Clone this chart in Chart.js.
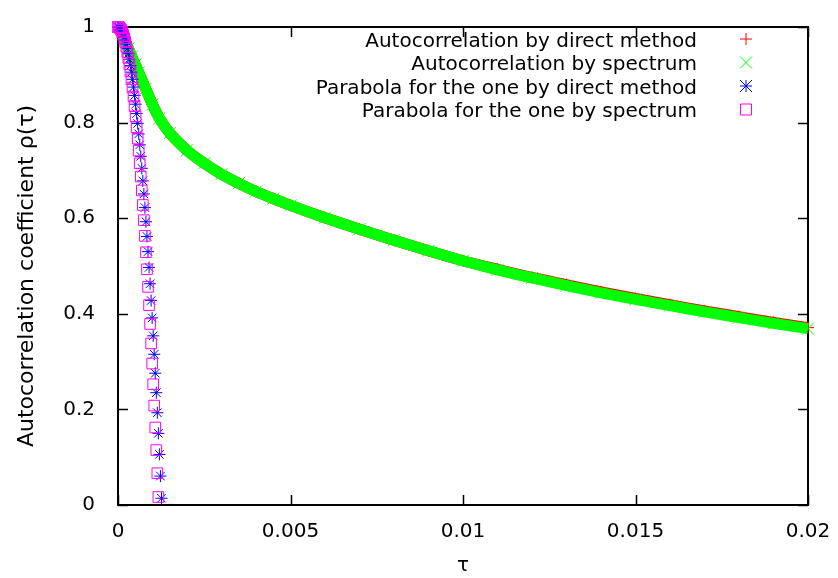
<!DOCTYPE html>
<html>
<head>
<meta charset="utf-8">
<script src="https://cdn.jsdelivr.net/npm/chart.js@4/dist/chart.umd.min.js"></script>
<style>
  html, body { margin: 0; padding: 0; background: #ffffff; }
  #wrap { width: 838px; height: 578px; }
</style>
</head>
<body>
<div id="wrap"><canvas id="c" width="838" height="578"></canvas></div>
<script>
// ---- data ----
const SERIES_NAMES = [
  "Autocorrelation by direct method",
  "Autocorrelation by spectrum",
  "Parabola for the one by direct method",
  "Parabola for the one by spectrum"
];
const AC_TAU = [0, 0.0001, 0.0002, 0.0003, 0.0004, 0.0005, 0.0006, 0.0008, 0.001, 0.0012, 0.0015,
  0.002, 0.0025, 0.003, 0.0035, 0.004, 0.0045, 0.005, 0.006, 0.007, 0.008, 0.009, 0.01,
  0.011, 0.012, 0.013, 0.014, 0.015, 0.016, 0.017, 0.018, 0.019, 0.02];
const AC_DIRECT = [1, 0.988, 0.972, 0.955, 0.938, 0.921, 0.905, 0.871, 0.838, 0.809, 0.778,
  0.742, 0.715, 0.692, 0.673, 0.656, 0.641, 0.627, 0.601, 0.577, 0.554, 0.532, 0.511,
  0.493, 0.476, 0.461, 0.446, 0.432, 0.419, 0.406, 0.394, 0.382, 0.371];
const AC_SPECTRUM = [1, 0.988, 0.972, 0.955, 0.938, 0.921, 0.905, 0.871, 0.838, 0.809, 0.778,
  0.742, 0.715, 0.692, 0.673, 0.656, 0.641, 0.627, 0.601, 0.577, 0.554, 0.532, 0.511,
  0.492, 0.475, 0.459, 0.444, 0.430, 0.417, 0.404, 0.392, 0.380, 0.369];
const PARA_TAU = [0, 0.00003, 0.00006, 0.00009, 0.00012, 0.00015, 0.00018, 0.00021, 0.00024, 0.00027,
  0.0003, 0.00033, 0.00036, 0.00039, 0.00042, 0.00045, 0.00048, 0.00051, 0.00054, 0.00057,
  0.0006, 0.00063, 0.00066, 0.00069, 0.00072, 0.00075, 0.00078, 0.00081, 0.00084, 0.00087,
  0.0009, 0.00093, 0.00096, 0.00099, 0.00102, 0.00105, 0.00108, 0.00111, 0.00114, 0.00117,
  0.0012, 0.00123, 0.00126];
const PARA_DIRECT = [1, 0.9994, 0.9978, 0.9950, 0.9911, 0.9860, 0.9799, 0.9726, 0.9642, 0.9547,
  0.9441, 0.9324, 0.9195, 0.9055, 0.8905, 0.8743, 0.8569, 0.8385, 0.8189, 0.7982,
  0.7764, 0.7535, 0.7295, 0.7043, 0.6781, 0.6507, 0.6222, 0.5926, 0.5618, 0.5300,
  0.4970, 0.4629, 0.4277, 0.3914, 0.3539, 0.3153, 0.2757, 0.2349, 0.1930, 0.1499,
  0.1058, 0.0605, 0.0141];
const PARA_SPECTRUM = [1, 0.9994, 0.9974, 0.9942, 0.9897, 0.9838, 0.9767, 0.9683, 0.9586, 0.9476,
  0.9354, 0.9218, 0.9069, 0.8907, 0.8733, 0.8545, 0.8345, 0.8132, 0.7905, 0.7666,
  0.7414, 0.7149, 0.6871, 0.6580, 0.6276, 0.5959, 0.5630, 0.5287, 0.4931, 0.4563,
  0.4182, 0.3787, 0.3380, 0.2960, 0.2526, 0.2080, 0.1621, 0.1149, 0.0665, 0.0167];
const X_TICKS = [0, 0.005, 0.01, 0.015, 0.02];
const X_TICK_LABELS = ["0", "0.005", "0.01", "0.015", "0.02"];
const Y_TICKS = [0, 0.2, 0.4, 0.6, 0.8, 1];
const Y_TICK_LABELS = ["0", "0.2", "0.4", "0.6", "0.8", "1"];
const X_TITLE = "τ";
const Y_TITLE = "Autocorrelation coefficient ρ(τ)";

// ---- styles ----
const FONT = '"DejaVu Sans", sans-serif';
const COLORS = ["#ff0000", "#00ff00", "#0000ff", "#ff00ff"];

function pts(xs, ys) { return ys.map((v, i) => ({ x: xs[i], y: v })); }

function drawMarker(ctx, kind, x, y, color) {
  ctx.save();
  ctx.strokeStyle = color;
  ctx.lineWidth = 1;
  ctx.beginPath();
  const r = 6;
  if (kind === 'plus' || kind === 'star') {
    ctx.moveTo(x - r, y); ctx.lineTo(x + r, y);
    ctx.moveTo(x, y - r); ctx.lineTo(x, y + r);
  }
  if (kind === 'cross' || kind === 'star') {
    ctx.moveTo(x - r, y - r); ctx.lineTo(x + r, y + r);
    ctx.moveTo(x - r, y + r); ctx.lineTo(x + r, y - r);
  }
  if (kind === 'square') {
    ctx.rect(x - 5.5, y - 5.5, 11, 11);
  }
  ctx.stroke();
  ctx.restore();
}

const framePlugin = {
  id: 'frame',
  beforeDatasetsDraw(chart) {
    const { ctx, chartArea: a, scales } = chart;
    ctx.save();
    ctx.strokeStyle = '#000';
    ctx.lineWidth = 2;
    ctx.strokeRect(a.left, a.top, a.right - a.left, a.bottom - a.top);
    ctx.lineWidth = 1.5;
    ctx.beginPath();
    scales.x.ticks.forEach(t => {
      const px = Math.round(scales.x.getPixelForValue(t.value)) + 0.5;
      ctx.moveTo(px, a.bottom); ctx.lineTo(px, a.bottom - 10);
      ctx.moveTo(px, a.top); ctx.lineTo(px, a.top + 10);
    });
    scales.y.ticks.forEach(t => {
      const py = Math.round(scales.y.getPixelForValue(t.value)) + 0.5;
      ctx.moveTo(a.left, py); ctx.lineTo(a.left + 10, py);
      ctx.moveTo(a.right, py); ctx.lineTo(a.right - 10, py);
    });
    ctx.stroke();
    ctx.restore();
  }
};

const textPlugin = {
  id: 'key',
  afterDraw(chart) {
    const { ctx } = chart;
    const kinds = ['plus', 'cross', 'star', 'square'];
    const rowY = [39, 62.5, 86, 109.5];
    ctx.save();
    ctx.font = '20px ' + FONT;
    ctx.fillStyle = '#000';
    ctx.textAlign = 'right';
    ctx.textBaseline = 'alphabetic';
    SERIES_NAMES.forEach((name, i) => {
      ctx.fillText(name, 697, rowY[i] + 7.5);
      drawMarker(ctx, kinds[i], 746, rowY[i], COLORS[i]);
    });
    // y-axis title
    ctx.translate(27, 276);
    ctx.rotate(-Math.PI / 2);
    ctx.font = '22px ' + FONT;
    ctx.textAlign = 'center';
    ctx.textBaseline = 'middle';
    ctx.fillText(Y_TITLE, 0, 0);
    ctx.restore();
  }
};

new Chart(document.getElementById('c'), {
  type: 'scatter',
  data: {
    datasets: [
      {
        label: SERIES_NAMES[0], data: pts(AC_TAU, AC_DIRECT), showLine: true,
        borderColor: COLORS[0], borderWidth: 11, cubicInterpolationMode: 'monotone',
        pointStyle: 'cross', pointRadius: 6, pointBorderColor: COLORS[0],
        pointBackgroundColor: 'rgba(0,0,0,0)', pointBorderWidth: 1, order: 4, clip: false
      },
      {
        label: SERIES_NAMES[1], data: pts(AC_TAU, AC_SPECTRUM), showLine: true,
        borderColor: COLORS[1], borderWidth: 11, cubicInterpolationMode: 'monotone',
        pointStyle: 'crossRot', pointRadius: 8.5, pointBorderColor: COLORS[1],
        pointBackgroundColor: 'rgba(0,0,0,0)', pointBorderWidth: 1, order: 3, clip: false
      },
      {
        label: SERIES_NAMES[2], data: pts(PARA_TAU, PARA_DIRECT), showLine: false,
        pointStyle: 'star', pointRadius: 6, pointBorderColor: COLORS[2],
        pointBackgroundColor: 'rgba(0,0,0,0)', pointBorderWidth: 1, order: 2, clip: false
      },
      {
        label: SERIES_NAMES[3], data: pts(PARA_TAU, PARA_SPECTRUM), showLine: false,
        pointStyle: 'rect', pointRadius: 7.5, pointBorderColor: COLORS[3],
        pointBackgroundColor: 'rgba(0,0,0,0)', pointBorderWidth: 1, order: 1, clip: false
      }
    ]
  },
  options: {
    responsive: false,
    animation: false,
    devicePixelRatio: 1,
    layout: { padding: { left: 0, top: 16, right: 30, bottom: 0 } },
    plugins: { legend: { display: false }, tooltip: { enabled: false } },
    scales: {
      x: {
        type: 'linear', min: 0, max: 0.02,
        afterBuildTicks: s => { s.ticks = X_TICKS.map(v => ({ value: v })); },
        afterFit: s => { s.height = 73; },
        ticks: {
          callback: (v, i) => X_TICK_LABELS[i],
          font: { family: FONT, size: 20 }, color: '#000', padding: 7, maxRotation: 0
        },
        grid: { display: false },
        border: { display: false },
        title: { display: true, text: X_TITLE, font: { family: FONT, size: 20 }, color: '#000', padding: 0 }
      },
      y: {
        type: 'linear', min: 0, max: 1,
        afterBuildTicks: s => { s.ticks = Y_TICKS.map(v => ({ value: v })); },
        afterFit: s => { s.width = 118; },
        ticks: {
          callback: (v, i) => Y_TICK_LABELS[i],
          font: { family: FONT, size: 20 }, color: '#000', padding: 15
        },
        grid: { display: false },
        border: { display: false },
        title: { display: false }
      }
    }
  },
  plugins: [framePlugin, textPlugin]
});
</script>
</body>
</html>
